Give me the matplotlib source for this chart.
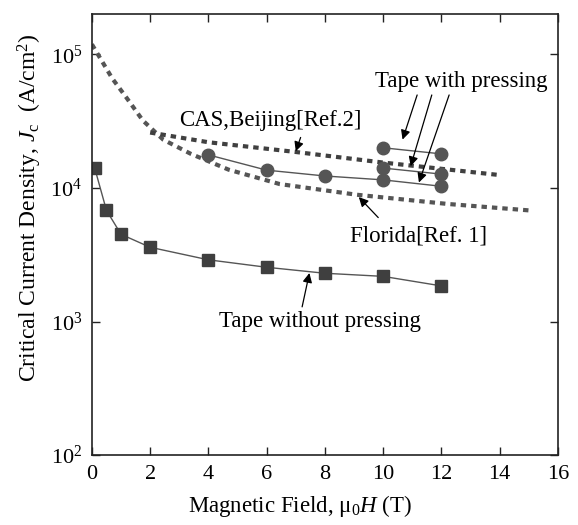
import numpy as np
import matplotlib
matplotlib.use("Agg")
import matplotlib.pyplot as plt

plt.rcParams['font.family'] = ['Liberation Serif', 'DejaVu Serif']
plt.rcParams['mathtext.fontset'] = 'custom'
plt.rcParams['mathtext.rm'] = 'Liberation Serif'
plt.rcParams['mathtext.it'] = 'Liberation Serif:italic'

# tape without pressing (squares)
b_nopress = [0.1, 0.5, 1, 2, 4, 6, 8, 10, 12]
jc_nopress = [1.4e4, 6.8e3, 4.5e3, 3.6e3, 2.9e3, 2.55e3, 2.3e3, 2.18e3, 1.85e3]

# tape with pressing (circles), three samples
b_press1 = [4, 6, 8, 10, 12]
jc_press1 = [1.77e4, 1.36e4, 1.23e4, 1.15e4, 1.03e4]
b_press2 = [10, 12]
jc_press2 = [2.0e4, 1.8e4]
b_press3 = [10, 12]
jc_press3 = [1.41e4, 1.27e4]

# reference curves (dotted)
b_cas = [2, 4, 7, 10, 14]
jc_cas = [2.6e4, 2.2e4, 1.86e4, 1.55e4, 1.25e4]
b_florida = [0, 0.7, 1.2, 1.75, 2.45, 3.4, 4.7, 6.45, 9.1, 12.2, 15]
jc_florida = [1.19e5, 6.6e4, 4.7e4, 3.2e4, 2.3e4, 1.8e4, 1.37e4, 1.07e4, 8.9e3, 7.6e3, 6.8e3]

fig = plt.figure(figsize=(5.78, 5.25), dpi=100)
ax = fig.add_axes([0.159, 0.133, 0.806, 0.840])

dot = (0, (1.3, 1.2))
ax.plot(b_florida, jc_florida, color='#555555', lw=3, linestyle=dot)
ax.plot(b_cas, jc_cas, color='#404040', lw=3, linestyle=dot)

ax.plot(b_nopress, jc_nopress, color='#555555', lw=1, marker='s', ms=9,
        mfc='#3f3f3f', mec='#3f3f3f')
for bx, jy in [(b_press1, jc_press1), (b_press2, jc_press2), (b_press3, jc_press3)]:
    ax.plot(bx, jy, color='#555555', lw=1, marker='o', ms=9,
            mfc='#555555', mec='#555555')

ax.set_yscale('log')
ax.set_xlim(0, 16)
ax.set_ylim(100, 2e5)
ax.set_xticks(np.arange(0, 17, 2))
ax.set_yticks([1e2, 1e3, 1e4, 1e5])
ax.set_yticklabels([r'$10^2$', r'$10^3$', r'$10^4$', r'$10^5$'])
ax.minorticks_off()
ax.tick_params(direction='in', length=6, width=1, labelsize=16, top=True, right=True,
               color='#222222', pad=7)
for s in ax.spines.values():
    s.set_linewidth(1.2)
    s.set_color('#222222')

ax.set_xlabel('Magnetic Field, μ$_0$$H$ (T)', fontsize=16.5)
ax.set_ylabel(r'Critical Current Density, $J_{\rm c}$  (A/cm$^2$)', fontsize=17)
ax.xaxis.set_label_coords(0.446, -0.085)
ax.yaxis.set_label_coords(-0.103, 0.562)

fs = 16.5
arrow = dict(arrowstyle='-|>', color='black', lw=0.9, mutation_scale=14)
ax.annotate('', xy=(6.97, 1.8e4), xytext=(7.2, 2.5e4), arrowprops=arrow)
ax.text(3.0, 3.2e4, 'CAS,Beijing[Ref.2]', fontsize=fs, ha='left', va='center')

ax.text(12.67, 6.3e4, 'Tape with pressing', fontsize=fs, ha='center', va='center')
ax.annotate('', xy=(10.64, 2.2e4), xytext=(11.2, 5.2e4), arrowprops=arrow)
ax.annotate('', xy=(10.92, 1.39e4), xytext=(11.7, 5.2e4), arrowprops=arrow)
ax.annotate('', xy=(11.2, 1.05e4), xytext=(12.3, 5.2e4), arrowprops=arrow)

ax.text(11.23, 4.4e3, 'Florida[Ref. 1]', fontsize=fs, ha='center', va='center')
ax.annotate('', xy=(9.1, 8.85e3), xytext=(9.9, 5.8e3), arrowprops=arrow)

ax.text(7.83, 1.0e3, 'Tape without pressing', fontsize=fs, ha='center', va='center')
ax.annotate('', xy=(7.49, 2.42e3), xytext=(7.2, 1.23e3), arrowprops=arrow)

fig.savefig('out.png', dpi=100)
